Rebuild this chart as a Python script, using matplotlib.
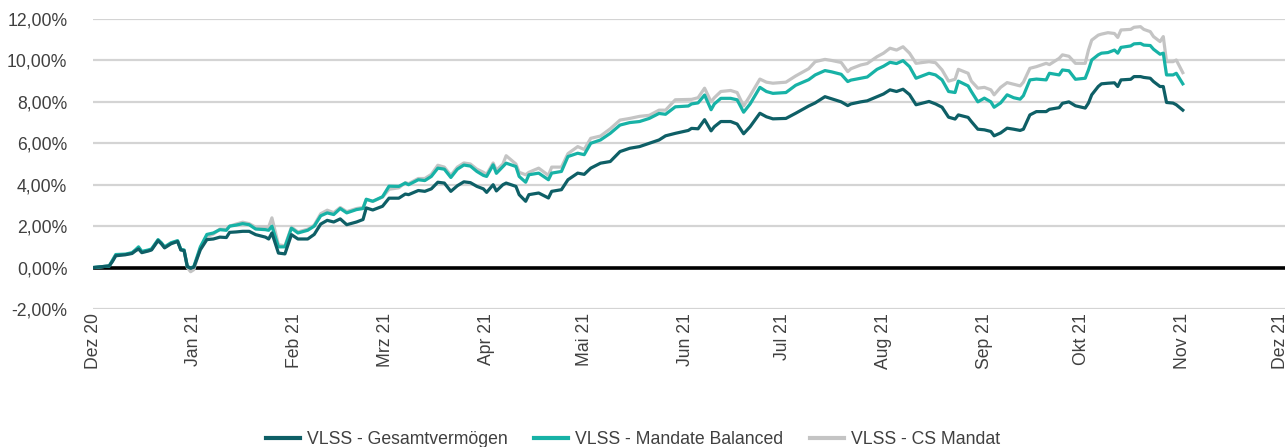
import pandas as pd
import numpy as np
import matplotlib
matplotlib.use('Agg')
import matplotlib.pyplot as plt

plt.rcParams['font.family'] = ['Liberation Sans', 'DejaVu Sans']

# ============================================
# 1. DATA (% since 01.12.2020)
# ============================================

start = pd.Timestamp('2020-12-01')

days = [0, 2, 5, 6, 7, 10, 12, 13, 14, 15, 17, 18, 20, 21, 22, 23, 24, 26, 27, 28,
        29, 30, 31, 33, 35, 37, 39, 41, 42, 44, 46, 48, 50, 51, 53, 54, 55, 57, 59, 61,
        63, 66, 68, 70, 72, 74, 76, 78, 81, 83, 84, 86, 89, 91, 94, 96, 97, 100, 102, 104,
        106, 108, 110, 112, 114, 116, 118, 120, 121, 123, 124, 126, 127, 130, 131, 133, 134, 137, 140, 141,
        144, 146, 149, 151, 153, 156, 159, 162, 165, 168, 171, 174, 176, 179, 183, 184, 186, 188, 190, 191,
        193, 196, 198, 200, 202, 205, 207, 209, 213, 216, 220, 222, 225, 227, 230, 232, 233, 236, 238, 241,
        243, 245, 247, 249, 251, 253, 257, 259, 261, 263, 265, 266, 269, 270, 272, 274, 276, 277, 279, 281,
        283, 285, 286, 288, 290, 293, 294, 297, 298, 300, 302, 305, 306, 307, 309, 310, 312, 314, 315, 316,
        319, 320, 322, 323, 325, 326, 328, 329, 330, 332, 333, 335]

gesamt = [0.0, 0.03, 0.08, 0.3, 0.57, 0.62, 0.68, 0.8, 0.9, 0.72, 0.8, 0.85, 1.3, 1.15, 0.95, 1.05, 1.15, 1.26, 0.85, 0.82,
          0.05, -0.03, 0.02, 0.86, 1.35, 1.38, 1.47, 1.45, 1.7, 1.72, 1.75, 1.75, 1.59, 1.55, 1.47, 1.38, 1.67, 0.7, 0.66, 1.59,
          1.38, 1.38, 1.6, 2.1, 2.28, 2.2, 2.35, 2.07, 2.2, 2.32, 2.88, 2.78, 2.96, 3.35, 3.35, 3.55, 3.52, 3.72, 3.68, 3.8,
          4.12, 4.08, 3.68, 3.95, 4.14, 4.1, 3.92, 3.8, 3.63, 4.0, 3.7, 4.0, 4.08, 3.92, 3.52, 3.2, 3.52, 3.6, 3.36, 3.68,
          3.76, 4.24, 4.56, 4.5, 4.8, 5.04, 5.12, 5.6, 5.76, 5.84, 6.0, 6.16, 6.36, 6.48, 6.62, 6.72, 6.7, 7.14, 6.6, 6.8,
          7.05, 7.05, 6.93, 6.46, 6.8, 7.45, 7.28, 7.18, 7.2, 7.45, 7.8, 7.95, 8.25, 8.15, 8.0, 7.82, 7.9, 8.0, 8.05, 8.25,
          8.38, 8.58, 8.5, 8.61, 8.35, 7.86, 8.02, 7.9, 7.74, 7.26, 7.17, 7.37, 7.25, 7.05, 6.68, 6.65, 6.57, 6.36, 6.5, 6.73,
          6.68, 6.62, 6.68, 7.37, 7.53, 7.53, 7.64, 7.72, 7.93, 8.0, 7.81, 7.7, 7.94, 8.34, 8.74, 8.87, 8.9, 8.92, 8.74, 9.06,
          9.09, 9.22, 9.22, 9.18, 9.14, 8.98, 8.74, 8.74, 7.97, 7.94, 7.86, 7.6]

balanced = [0.0, 0.03, 0.08, 0.35, 0.63, 0.65, 0.72, 0.85, 1.0, 0.78, 0.85, 0.9, 1.35, 1.2, 1.0, 1.1, 1.2, 1.3, 0.88, 0.85,
            0.05, -0.02, 0.05, 1.0, 1.6, 1.67, 1.83, 1.8, 2.0, 2.05, 2.12, 2.07, 1.86, 1.85, 1.83, 1.8, 2.0, 1.0, 1.0, 1.9,
            1.67, 1.8, 2.0, 2.5, 2.64, 2.56, 2.85, 2.64, 2.8, 2.85, 3.3, 3.2, 3.42, 3.93, 3.92, 4.08, 4.0, 4.24, 4.2, 4.4,
            4.8, 4.75, 4.35, 4.75, 4.95, 4.9, 4.64, 4.45, 4.4, 4.96, 4.55, 4.88, 5.04, 4.88, 4.4, 4.12, 4.48, 4.56, 4.24, 4.56,
            4.64, 5.36, 5.52, 5.45, 6.0, 6.16, 6.48, 6.88, 7.0, 7.05, 7.2, 7.44, 7.4, 7.76, 7.8, 7.9, 7.95, 8.33, 7.62, 7.9,
            8.17, 8.17, 8.1, 7.5, 7.9, 8.7, 8.5, 8.41, 8.45, 8.8, 9.07, 9.3, 9.51, 9.45, 9.33, 8.98, 9.05, 9.14, 9.2, 9.57,
            9.72, 9.91, 9.85, 9.99, 9.7, 9.14, 9.38, 9.3, 9.06, 8.5, 8.45, 9.0, 8.77, 8.5, 8.0, 8.18, 8.0, 7.74, 7.95, 8.34,
            8.2, 8.13, 8.3, 9.06, 9.1, 9.06, 9.38, 9.3, 9.54, 9.5, 9.09, 9.14, 9.54, 10.02, 10.27, 10.35, 10.38, 10.5, 10.35, 10.63,
            10.7, 10.8, 10.82, 10.74, 10.72, 10.54, 10.3, 10.35, 9.3, 9.3, 9.38, 8.87]

cs_mandat = [0.0, 0.03, 0.08, 0.35, 0.6, 0.63, 0.7, 0.82, 0.95, 0.75, 0.82, 0.88, 1.33, 1.18, 0.98, 1.08, 1.18, 1.28, 0.85, 0.83,
             0.0, -0.2, -0.1, 0.95, 1.5, 1.62, 1.86, 1.85, 2.0, 2.1, 2.19, 2.12, 1.95, 1.96, 1.96, 1.96, 2.4, 1.1, 1.05, 1.95,
             1.72, 1.85, 2.05, 2.6, 2.77, 2.65, 2.9, 2.7, 2.85, 2.9, 3.28, 3.2, 3.4, 3.78, 3.85, 4.1, 4.05, 4.3, 4.3, 4.5,
             4.94, 4.85, 4.45, 4.85, 5.05, 5.0, 4.75, 4.6, 4.5, 5.05, 4.7, 5.0, 5.4, 5.0, 4.6, 4.48, 4.6, 4.8, 4.45, 4.85,
             4.85, 5.5, 5.84, 5.7, 6.24, 6.35, 6.7, 7.12, 7.2, 7.3, 7.35, 7.6, 7.6, 8.1, 8.12, 8.12, 8.2, 8.66, 8.0, 8.2,
             8.5, 8.55, 8.45, 7.8, 8.3, 9.1, 8.95, 8.9, 8.95, 9.25, 9.6, 9.94, 10.05, 10.0, 9.9, 9.46, 9.6, 9.78, 9.85, 10.18,
             10.35, 10.59, 10.5, 10.66, 10.35, 9.86, 9.94, 9.89, 9.54, 9.0, 9.09, 9.57, 9.38, 9.0, 8.66, 8.7, 8.58, 8.34, 8.7, 8.93,
             8.85, 8.77, 8.95, 9.62, 9.7, 9.86, 9.8, 10.1, 10.27, 10.2, 9.86, 9.86, 10.5, 10.98, 11.22, 11.27, 11.34, 11.3, 11.11, 11.47,
             11.5, 11.6, 11.63, 11.5, 11.39, 11.15, 10.91, 11.15, 9.94, 9.94, 10.02, 9.41]

month_labels = ['Dez 20', 'Jan 21', 'Feb 21', 'Mrz 21', 'Apr 21', 'Mai 21', 'Jun 21',
                'Jul 21', 'Aug 21', 'Sep 21', 'Okt 21', 'Nov 21', 'Dez 21']
y_ticks = [-2, 0, 2, 4, 6, 8, 10, 12]

dates = start + pd.to_timedelta(days, unit='D')
month_starts = pd.date_range('2020-12-01', '2021-12-01', freq='MS')

# ============================================
# 2. PLOT
# ============================================

fig = plt.figure(figsize=(12.85, 4.47), dpi=100)
ax = fig.add_axes([93 / 1285, 1 - 309 / 447, 1 - 93 / 1285, 290 / 447])

text_color = '#404040'

for v in y_ticks:
    if v == 0:
        continue
    ax.axhline(v, color='#d4d4d4', lw=1.6, zorder=1)
ax.axhline(0, color='black', lw=2.6, zorder=2)

ax.plot(dates, gesamt, color='#0e5f66', lw=2.3, label='VLSS - Gesamtvermögen', zorder=5)
ax.plot(dates, balanced, color='#17b2a6', lw=2.3, label='VLSS - Mandate Balanced', zorder=4)
ax.plot(dates, cs_mandat, color='#c4c4c4', lw=2.3, label='VLSS - CS Mandat', zorder=3)

ax.set_ylim(-2, 12)
ax.set_xlim(month_starts[0], month_starts[-1] + pd.Timedelta(hours=34))

ax.set_yticks(y_ticks)
ax.set_yticklabels([f'{v:.2f}'.replace('.', ',') + '%' for v in y_ticks])
ax.set_xticks(month_starts)
ax.set_xticklabels(month_labels, rotation=90, va='top', ha='center')

ax.tick_params(axis='y', length=0, pad=18.5, labelsize=12.7, colors=text_color)
ax.tick_params(axis='x', length=0, pad=3, labelsize=12.7, colors=text_color)
for s in ax.spines.values():
    s.set_visible(False)
ax.set_facecolor('none')

fig.legend(loc='center', bbox_to_anchor=(0.4926, 0.0168), ncol=3, frameon=False,
           fontsize=12.7, handlelength=1.92, handletextpad=0.4, columnspacing=1.5,
           labelcolor=text_color, borderaxespad=0, borderpad=0)
for line in fig.legends[0].get_lines():
    line.set_linewidth(3)

fig.savefig('out.png', dpi=100)
print("Saved out.png")
